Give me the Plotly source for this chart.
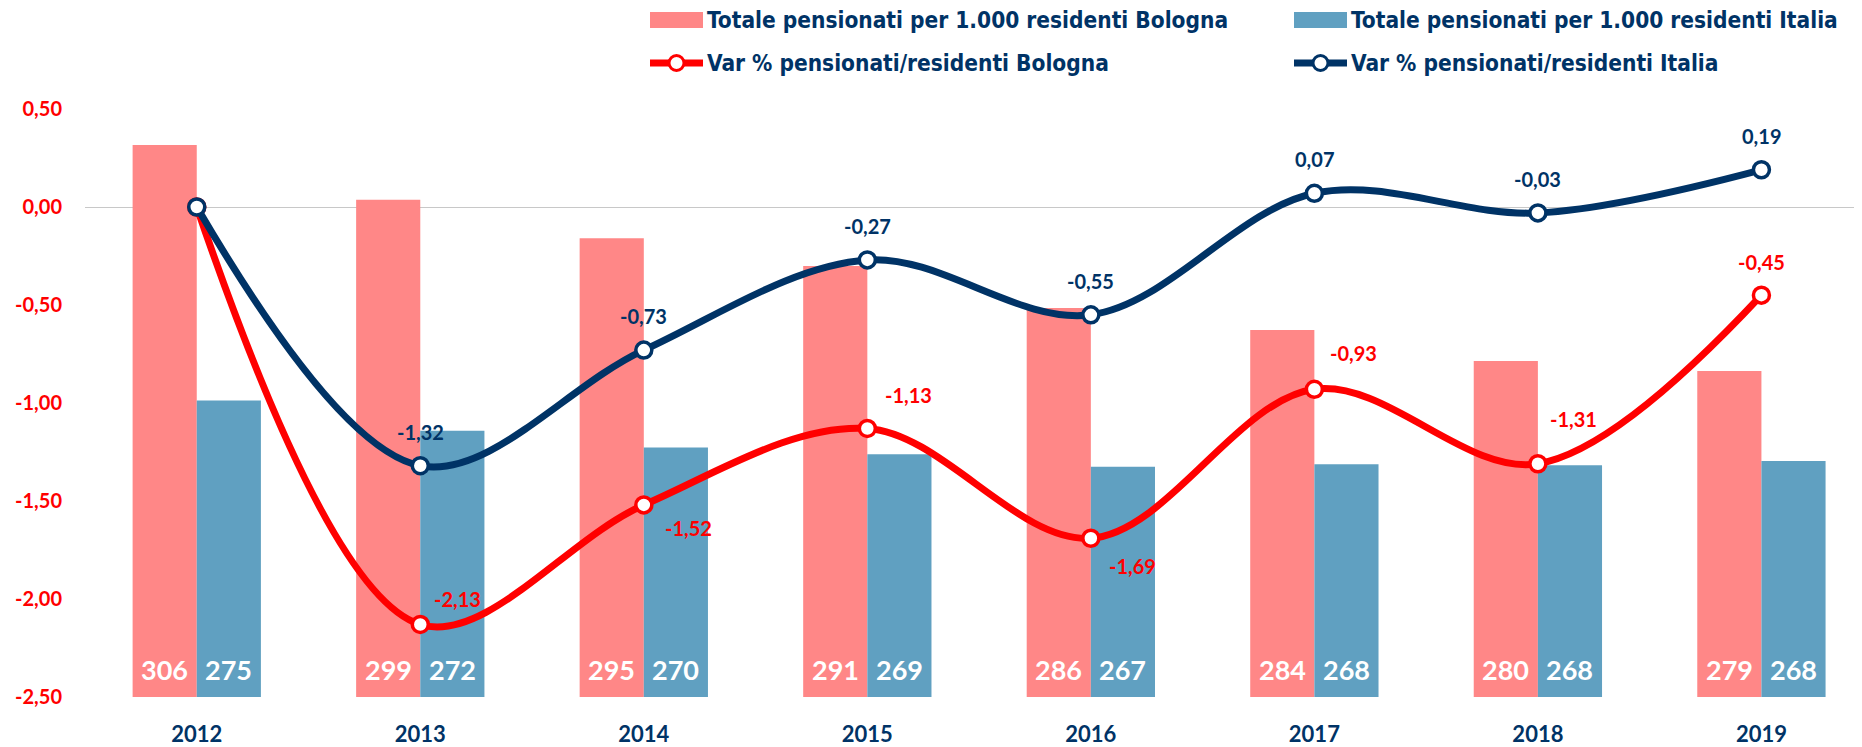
import plotly.graph_objects as go

# ---------------- data ----------------
years = ["2012", "2013", "2014", "2015", "2016", "2017", "2018", "2019"]
bologna_tot = [305.7, 299.2, 294.6, 291.3, 286.3, 283.7, 280.0, 278.8]
italia_tot = [275.3, 271.7, 269.7, 268.9, 267.4, 267.7, 267.6, 268.1]
bologna_var = [0.00, -2.13, -1.52, -1.13, -1.69, -0.93, -1.31, -0.45]
italia_var = [0.00, -1.32, -0.73, -0.27, -0.55, 0.07, -0.03, 0.19]
y_ticks = [-2.5, -2.0, -1.5, -1.0, -0.5, 0.0, 0.5]
show_label = [False, True, True, True, True, True, True, True]

name_bol_tot = "Totale pensionati per 1.000 residenti Bologna"
name_ita_tot = "Totale pensionati per 1.000 residenti Italia"
name_bol_var = "Var % pensionati/residenti Bologna"
name_ita_var = "Var % pensionati/residenti Italia"

# ---------------- style ----------------
PAGE_OFF = 8               # default body margin of the html page
W, H = 1862 - PAGE_OFF, 747 - PAGE_OFF
L, R, T, B = 85 - PAGE_OFF, 0, 109 - PAGE_OFF, 50
C_BOL_BAR = "#FF8787"
C_ITA_BAR = "#60A0C1"
C_RED = "#FF0000"
C_NAVY = "#003366"
NUM_FONT = "Lato, 'Open Sans', sans-serif"
LEG_FONT = "'DejaVu Sans Condensed', 'Liberation Sans Narrow', sans-serif"
BARGAP = 0.426

# label offsets (px) for line labels (dx, dy up)
bol_lab_off = [(0, 0), (37, 25), (45, -23), (41, 33), (42, -28), (39, 36), (36, 45), (0, 33)]
ita_lab_off = [(0, 34)] * 8


def fmt(v):
    return f"{v:.2f}".replace(".", ",")


def px_x(p):
    # p in page pixels
    return (p - PAGE_OFF - L) / (W - L - R)


def px_y(p):
    return (H - B - (p - PAGE_OFF)) / (H - T - B)


fig = go.Figure()

fig.add_trace(go.Bar(x=years, y=bologna_tot, name=name_bol_tot, marker=dict(color=C_BOL_BAR, line=dict(width=0)),
                     yaxis="y", hoverinfo="skip"))
fig.add_trace(go.Bar(x=years, y=italia_tot, name=name_ita_tot, marker=dict(color=C_ITA_BAR, line=dict(width=0)),
                     yaxis="y", hoverinfo="skip"))

fig.add_trace(go.Scatter(x=years, y=bologna_var, name=name_bol_var, yaxis="y2", mode="lines+markers",
                         line=dict(color=C_RED, width=7, shape="spline", smoothing=1.0),
                         marker=dict(size=16, color="white", line=dict(color=C_RED, width=3.5)),
                         hoverinfo="skip"))
fig.add_trace(go.Scatter(x=years, y=italia_var, name=name_ita_var, yaxis="y2", mode="lines+markers",
                         line=dict(color=C_NAVY, width=7, shape="spline", smoothing=1.0),
                         marker=dict(size=16, color="white", line=dict(color=C_NAVY, width=3.5)),
                         hoverinfo="skip"))

annotations = []
off = (1 - BARGAP) / 4
for i, (vb, vi) in enumerate(zip(bologna_tot, italia_tot)):
    for xv, v in ((i - off, vb), (i + off, vi)):
        annotations.append(dict(x=xv, xref="x", y=0, yref="paper", yshift=27.5, yanchor="middle",
                                text=f"{round(v)}", showarrow=False,
                                font=dict(family=NUM_FONT, size=27, color="white", weight="bold")))

for i in range(len(years)):
    if not show_label[i]:
        continue
    dx, dy = bol_lab_off[i]
    annotations.append(dict(x=i, xref="x", y=bologna_var[i], yref="y2", xshift=dx, yshift=dy,
                            text=fmt(bologna_var[i]), showarrow=False,
                            font=dict(family=NUM_FONT, size=20, color=C_RED, weight="bold")))
    dx, dy = ita_lab_off[i]
    annotations.append(dict(x=i, xref="x", y=italia_var[i], yref="y2", xshift=dx, yshift=dy,
                            text=fmt(italia_var[i]), showarrow=False,
                            font=dict(family=NUM_FONT, size=20, color=C_NAVY, weight="bold")))

# custom legend (page pixel positions)
shapes = []
leg_items = [
    (name_bol_tot, "bar", C_BOL_BAR, 650, 20),
    (name_ita_tot, "bar", C_ITA_BAR, 1294, 20),
    (name_bol_var, "line", C_RED, 650, 63),
    (name_ita_var, "line", C_NAVY, 1294, 63),
]
for text, kind, col, x0, yc in leg_items:
    if kind == "bar":
        shapes.append(dict(type="rect", xref="paper", yref="paper", x0=px_x(x0), x1=px_x(x0 + 53),
                           y0=px_y(yc + 8), y1=px_y(yc - 8), fillcolor=col, line=dict(width=0)))
    else:
        shapes.append(dict(type="line", xref="paper", yref="paper", x0=px_x(x0), x1=px_x(x0 + 53),
                           y0=px_y(yc), y1=px_y(yc), line=dict(color=col, width=7)))
        shapes.append(dict(type="circle", xref="paper", yref="paper", x0=px_x(x0 + 19), x1=px_x(x0 + 34),
                           y0=px_y(yc + 7.5), y1=px_y(yc - 7.5), fillcolor="white", line=dict(color=col, width=3)))
    annotations.append(dict(x=px_x(x0 + 55), xref="paper", y=px_y(yc), yref="paper", xanchor="left",
                            yanchor="middle", text=text, showarrow=False,
                            font=dict(family=LEG_FONT, size=22.5, color=C_NAVY, weight="bold")))

fig.update_layout(
    width=W, height=H,
    margin=dict(l=L, r=R, t=T, b=B, autoexpand=False),
    paper_bgcolor="white", plot_bgcolor="white",
    barmode="group", bargap=BARGAP, bargroupgap=0,
    showlegend=False,
    xaxis=dict(type="category", range=[-0.5, 7.45], showgrid=False, zeroline=False, showline=False,
               ticks="", ticklabelstandoff=22,
               tickfont=dict(family=NUM_FONT, size=22, color=C_NAVY, weight="bold")),
    yaxis=dict(range=[240, 310], visible=False, showgrid=False, zeroline=False),
    yaxis2=dict(range=[-2.5, 0.5], overlaying="y", side="left", tickvals=y_ticks,
                ticktext=[fmt(v) for v in y_ticks], showgrid=False, zeroline=True,
                zerolinecolor="#C8C8C8", zerolinewidth=1, showline=False, ticks="",
                ticklabelstandoff=22,
                tickfont=dict(family=NUM_FONT, size=20, color=C_RED, weight="bold")),
    annotations=annotations,
    shapes=shapes,
)

fig.write_html("out.html")
